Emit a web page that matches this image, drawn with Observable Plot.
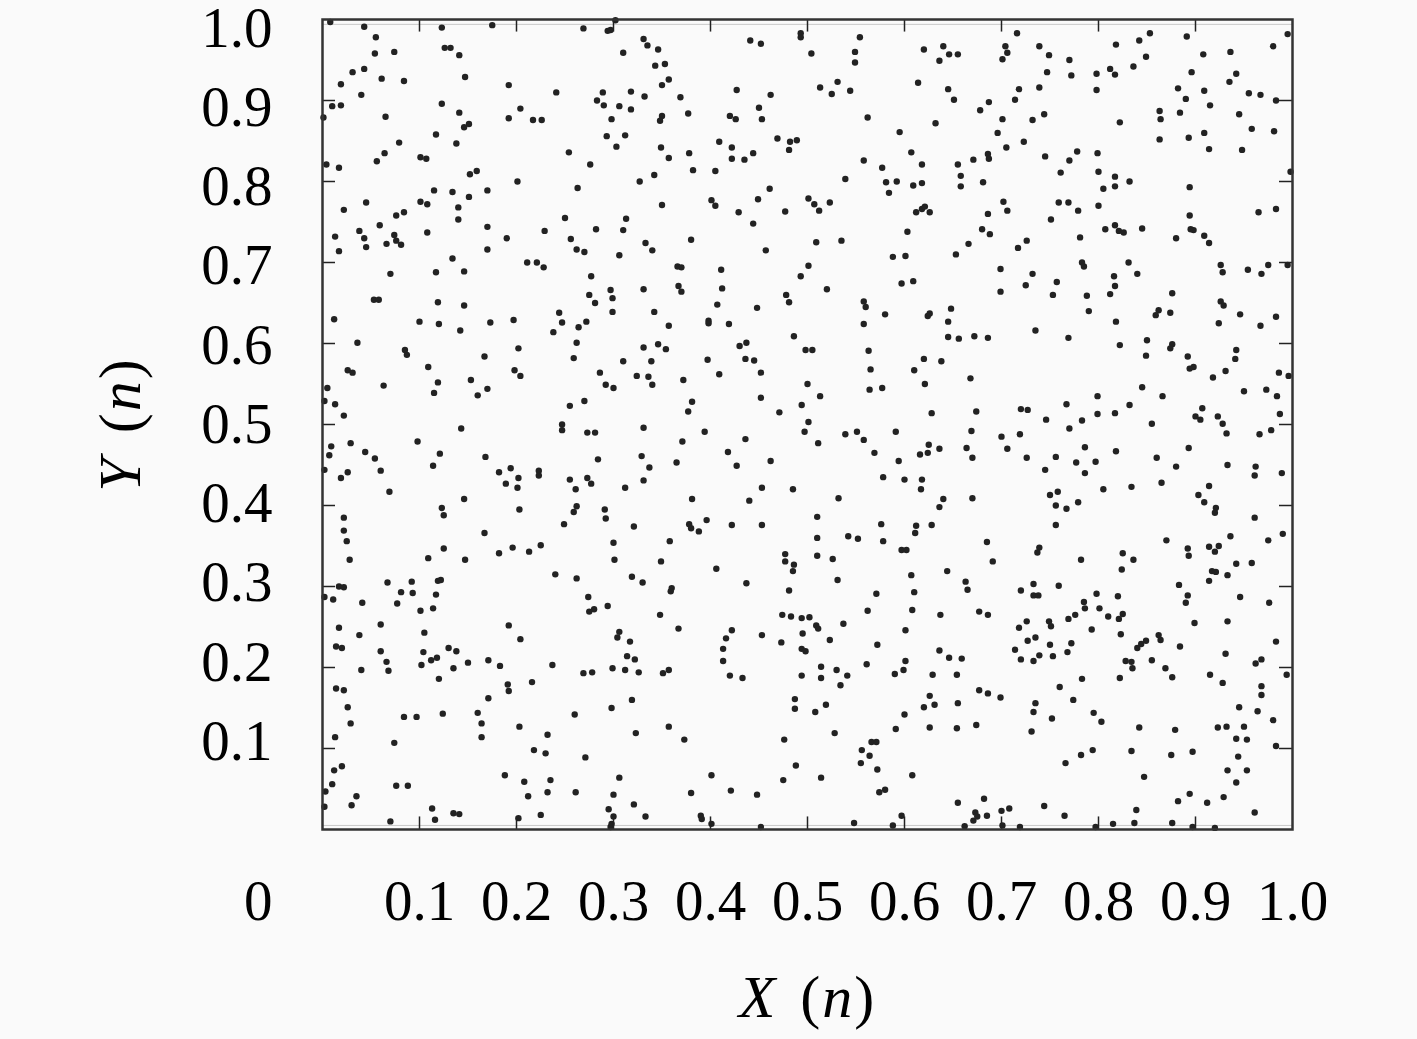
<!DOCTYPE html>
<html>
<head>
<meta charset="utf-8">
<script src="https://cdn.jsdelivr.net/npm/d3@7"></script>
<script src="https://cdn.jsdelivr.net/npm/@observablehq/plot@0.6"></script>
<style>
html,body{margin:0;padding:0;background:#fafafa;}
svg{display:block;}
svg text{font-family:"Liberation Serif",serif !important;}
</style>
</head>
<body>
<div id="chart"></div>
<script>
const topLeft = [[.008,.997],[.043,.991],[.055,.978],[.054,.958],[.074,.960],[.123,.990],[.175,.993],[.126,.965],[.132,.965],[.141,.956],[.147,.929],[.031,.935],[.043,.939],[.019,.920],[.061,.927],[.084,.924],[.040,.907],[.192,.919],[.241,.910],[.269,.989],[.294,.986],[.297,.987],[.302,.999],[.310,.959],[.010,.893],[.019,.894],[.001,.879],[.065,.880],[.123,.896],[.141,.885],[.151,.871],[.146,.867],[.117,.858],[.138,.847],[.192,.878],[.204,.890],[.217,.876],[.226,.876],[.289,.910],[.318,.911],[.283,.900],[.290,.894],[.306,.893],[.318,.889],[.298,.877],[.293,.856],[.312,.857],[.303,.843],[.254,.836],[.276,.821],[.079,.848],[.064,.835],[.056,.825],[.101,.830],[.107,.828],[.004,.821],[.017,.817],[.152,.809],[.159,.813],[.201,.800],[.263,.792],[.327,.800],[.115,.789],[.134,.787],[.151,.781],[.170,.789],[.101,.775],[.108,.772],[.045,.774],[.022,.765],[.140,.768],[.140,.753],[.084,.762],[.076,.758],[.059,.746],[.038,.739],[.013,.732],[.043,.730],[.045,.719],[.066,.723],[.074,.734],[.076,.727],[.081,.722],[.108,.737],[.170,.744],[.190,.730],[.170,.716],[.229,.739],[.250,.755],[.256,.729],[.282,.741],[.262,.716],[.270,.713],[.313,.754],[.310,.740],[.306,.709],[.017,.714],[.134,.705],[.211,.700],[.221,.700],[.228,.694],[.070,.686],[.117,.688],[.146,.689],[.277,.683]];
const topMiddle = [[.331,.976],[.335,.968],[.346,.963],[.343,.943],[.353,.945],[.357,.926],[.350,.919],[.332,.905],[.369,.904],[.350,.881],[.348,.875],[.377,.884],[.441,.974],[.452,.970],[.493,.983],[.493,.978],[.504,.958],[.554,.978],[.549,.960],[.549,.947],[.427,.913],[.462,.907],[.513,.916],[.531,.923],[.525,.908],[.544,.912],[.620,.963],[.640,.967],[.646,.957],[.655,.957],[.636,.949],[.614,.922],[.645,.914],[.651,.901],[.450,.891],[.420,.881],[.426,.877],[.453,.877],[.562,.879],[.632,.872],[.595,.861],[.409,.849],[.422,.842],[.422,.828],[.435,.827],[.444,.835],[.469,.853],[.482,.849],[.489,.851],[.481,.839],[.349,.842],[.378,.835],[.357,.829],[.382,.814],[.405,.813],[.342,.808],[.461,.791],[.350,.771],[.401,.777],[.405,.770],[.449,.778],[.429,.762],[.477,.763],[.501,.779],[.507,.772],[.512,.764],[.523,.774],[.444,.748],[.539,.803],[.558,.826],[.577,.817],[.581,.799],[.592,.800],[.584,.786],[.609,.795],[.618,.798],[.607,.836],[.618,.821],[.655,.821],[.658,.807],[.658,.794],[.612,.762],[.618,.766],[.621,.769],[.626,.762],[.603,.738],[.666,.723],[.653,.710],[.588,.707],[.601,.708],[.535,.727],[.509,.725],[.457,.715],[.380,.728],[.333,.724],[.340,.715],[.366,.695],[.370,.694],[.411,.691],[.501,.696]];
const topRight = [[.716,.983],[.739,.967],[.749,.956],[.704,.967],[.706,.959],[.701,.951],[.770,.950],[.747,.935],[.772,.931],[.798,.933],[.812,.939],[.817,.932],[.818,.969],[.842,.974],[.853,.983],[.849,.954],[.836,.942],[.891,.979],[.908,.957],[.936,.960],[.980,.967],[.995,.982],[.896,.935],[.942,.933],[.935,.923],[.798,.913],[.739,.916],[.718,.914],[.714,.901],[.687,.898],[.678,.888],[.701,.877],[.732,.876],[.744,.883],[.696,.860],[.882,.915],[.890,.902],[.909,.912],[.915,.894],[.955,.909],[.967,.907],[.983,.900],[.863,.887],[.864,.877],[.884,.885],[.945,.883],[.822,.873],[.958,.865],[.981,.862],[.909,.860],[.893,.854],[.863,.852],[.914,.840],[.948,.839],[.705,.842],[.723,.849],[.686,.834],[.687,.828],[.671,.827],[.745,.831],[.778,.837],[.770,.826],[.799,.835],[.761,.811],[.800,.812],[.817,.806],[.832,.800],[.817,.794],[.805,.791],[.998,.812],[.894,.793],[.681,.799],[.702,.775],[.706,.764],[.686,.760],[.759,.774],[.769,.774],[.779,.764],[.800,.770],[.983,.766],[.965,.762],[.894,.758],[.751,.753],[.680,.741],[.688,.735],[.807,.741],[.817,.746],[.821,.739],[.826,.737],[.845,.742],[.895,.741],[.898,.740],[.909,.733],[.914,.724],[.880,.730],[.781,.731],[.726,.727],[.717,.718],[.783,.700],[.785,.695],[.831,.700],[.699,.692],[.732,.686],[.926,.697],[.928,.688],[.954,.691],[.968,.686],[.975,.697],[.995,.697],[.816,.683],[.840,.686]];
const midLeft = [[.297,.666],[.299,.656],[.275,.660],[.281,.650],[.299,.639],[.053,.654],[.058,.654],[.119,.651],[.146,.647],[.012,.630],[.100,.627],[.120,.624],[.142,.616],[.173,.626],[.197,.629],[.244,.638],[.247,.626],[.272,.627],[.264,.620],[.238,.614],[.262,.601],[.036,.601],[.085,.592],[.087,.586],[.167,.584],[.202,.594],[.259,.582],[.310,.578],[.109,.571],[.026,.567],[.031,.564],[.198,.567],[.204,.560],[.286,.564],[.324,.560],[.119,.552],[.153,.555],[.170,.544],[.063,.548],[.115,.539],[.160,.536],[.292,.549],[.300,.545],[.005,.545],[.002,.529],[.013,.525],[.022,.511],[.255,.523],[.270,.529],[.143,.495],[.247,.500],[.247,.493],[.273,.490],[.281,.490],[.029,.477],[.009,.473],[.007,.462],[.098,.479],[.044,.466],[.054,.458],[.121,.464],[.114,.449],[.168,.460],[.284,.457],[.002,.444],[.026,.441],[.019,.434],[.060,.443],[.182,.441],[.194,.446],[.202,.434],[.189,.427],[.201,.422],[.223,.443],[.223,.437],[.255,.432],[.261,.420],[.273,.434],[.277,.427],[.312,.422],[.069,.417],[.146,.408],[.123,.397],[.125,.388],[.203,.395],[.262,.399],[.259,.392],[.291,.395],[.292,.384],[.022,.385],[.022,.369],[.249,.377],[.321,.374],[.167,.366]];
const midMiddle = [[.331,.667],[.367,.671],[.370,.664],[.412,.668],[.493,.683],[.520,.667],[.597,.674],[.609,.677],[.478,.660],[.481,.651],[.558,.652],[.560,.645],[.580,.636],[.624,.634],[.626,.637],[.648,.643],[.645,.627],[.342,.639],[.407,.648],[.448,.644],[.398,.628],[.398,.625],[.419,.624],[.357,.622],[.558,.624],[.486,.609],[.645,.608],[.656,.606],[.331,.595],[.346,.599],[.354,.593],[.430,.597],[.437,.601],[.498,.592],[.505,.592],[.563,.591],[.339,.578],[.397,.580],[.436,.581],[.445,.579],[.620,.581],[.638,.578],[.565,.568],[.610,.567],[.336,.559],[.340,.549],[.372,.555],[.409,.562],[.452,.564],[.668,.557],[.621,.550],[.500,.550],[.564,.543],[.577,.545],[.513,.535],[.381,.528],[.377,.516],[.452,.533],[.494,.524],[.471,.515],[.628,.514],[.331,.496],[.501,.503],[.497,.491],[.539,.488],[.551,.491],[.558,.481],[.591,.491],[.394,.491],[.371,.479],[.436,.482],[.511,.477],[.669,.492],[.418,.466],[.569,.465],[.625,.475],[.624,.465],[.616,.463],[.636,.470],[.664,.471],[.329,.461],[.365,.453],[.337,.447],[.427,.449],[.462,.455],[.594,.455],[.670,.459],[.331,.431],[.578,.435],[.600,.432],[.618,.432],[.617,.420],[.453,.422],[.485,.420],[.381,.408],[.440,.406],[.532,.409],[.640,.408],[.636,.398],[.670,.409],[.396,.382],[.378,.377],[.380,.372],[.388,.368],[.422,.376],[.453,.376],[.510,.386],[.576,.377],[.612,.375],[.611,.366],[.628,.376],[.542,.362],[.552,.359],[.510,.360]];
const midRight = [[.699,.664],[.725,.672],[.757,.676],[.753,.660],[.788,.659],[.790,.640],[.817,.671],[.812,.661],[.876,.662],[.926,.652],[.929,.647],[.862,.641],[.859,.635],[.874,.638],[.946,.636],[.924,.625],[.983,.633],[.967,.622],[.818,.627],[.735,.616],[.672,.609],[.686,.607],[.769,.607],[.850,.604],[.822,.598],[.876,.599],[.874,.594],[.849,.585],[.892,.584],[.942,.592],[.941,.581],[.898,.571],[.894,.569],[.931,.566],[.918,.558],[.986,.564],[.996,.560],[.845,.546],[.950,.541],[.973,.543],[.984,.535],[.799,.535],[.866,.535],[.767,.525],[.832,.524],[.907,.520],[.720,.519],[.727,.518],[.674,.516],[.799,.513],[.817,.514],[.987,.513],[.746,.506],[.783,.505],[.900,.510],[.905,.506],[.923,.510],[.928,.501],[.855,.501],[.770,.495],[.932,.489],[.966,.488],[.978,.493],[.700,.485],[.719,.488],[.706,.470],[.786,.472],[.818,.467],[.893,.471],[.726,.459],[.756,.460],[.860,.459],[.777,.453],[.797,.454],[.933,.450],[.962,.448],[.961,.437],[.880,.448],[.745,.444],[.786,.440],[.989,.440],[.865,.428],[.805,.420],[.834,.423],[.914,.424],[.903,.413],[.909,.404],[.750,.413],[.758,.417],[.779,.404],[.756,.400],[.767,.396],[.921,.397],[.920,.391],[.961,.385],[.756,.376],[.990,.365],[.975,.357],[.936,.362],[.870,.357]];
const lowLeft = [[.025,.356],[.028,.333],[.109,.335],[.125,.347],[.147,.333],[.182,.341],[.196,.348],[.213,.343],[.225,.351],[.300,.354],[.301,.333],[.240,.315],[.262,.310],[.319,.312],[.330,.305],[.017,.300],[.022,.299],[.002,.287],[.011,.284],[.067,.305],[.092,.306],[.119,.307],[.122,.308],[.081,.293],[.093,.292],[.117,.290],[.041,.280],[.077,.279],[.114,.273],[.101,.270],[.274,.287],[.294,.276],[.280,.272],[.275,.269],[.060,.253],[.017,.249],[.038,.240],[.105,.243],[.192,.252],[.204,.235],[.306,.244],[.304,.237],[.317,.232],[.014,.226],[.020,.224],[.060,.220],[.104,.219],[.130,.224],[.138,.220],[.066,.207],[.068,.196],[.112,.209],[.118,.212],[.102,.203],[.135,.199],[.150,.206],[.171,.209],[.183,.202],[.237,.203],[.314,.214],[.322,.210],[.299,.199],[.312,.197],[.326,.194],[.269,.193],[.278,.194],[.040,.197],[.120,.186],[.191,.179],[.192,.171],[.216,.182],[.014,.174],[.022,.172],[.171,.162],[.319,.160],[.026,.151],[.298,.150],[.160,.144],[.124,.143],[.260,.142],[.084,.139],[.097,.139],[.029,.131],[.164,.131],[.203,.127],[.232,.117],[.323,.119],[.013,.114],[.164,.114],[.074,.107],[.218,.098],[.230,.094],[.271,.089],[.020,.078],[.012,.073],[.188,.067],[.208,.059],[.235,.061],[.306,.064],[.010,.056],[.076,.054],[.088,.054],[.003,.047],[.232,.046],[.261,.046],[.212,.041],[.300,.043],[.035,.041],[.030,.030],[.002,.028],[.113,.026],[.321,.031],[.295,.025],[.135,.020],[.141,.019],[.225,.018],[.300,.016],[.116,.012],[.070,.010],[.202,.014],[.297,.003],[.298,.007]];
const lowMiddle = [[.358,.356],[.349,.331],[.406,.322],[.437,.304],[.360,.298],[.359,.294],[.477,.340],[.477,.331],[.486,.327],[.485,.319],[.510,.338],[.526,.334],[.578,.356],[.597,.345],[.602,.345],[.607,.314],[.644,.319],[.663,.306],[.665,.296],[.531,.308],[.481,.295],[.571,.291],[.610,.293],[.608,.271],[.562,.270],[.637,.265],[.348,.265],[.474,.265],[.483,.263],[.494,.261],[.502,.262],[.509,.252],[.511,.248],[.537,.254],[.367,.248],[.422,.246],[.416,.236],[.453,.240],[.495,.242],[.601,.246],[.523,.234],[.473,.231],[.572,.228],[.413,.223],[.494,.223],[.498,.220],[.636,.221],[.646,.212],[.659,.211],[.413,.208],[.601,.208],[.561,.204],[.514,.201],[.530,.197],[.599,.197],[.357,.197],[.351,.193],[.590,.192],[.629,.191],[.654,.191],[.420,.190],[.433,.187],[.494,.190],[.514,.187],[.541,.190],[.534,.178],[.626,.165],[.487,.161],[.487,.149],[.519,.154],[.508,.145],[.631,.154],[.620,.151],[.655,.156],[.600,.142],[.357,.127],[.591,.124],[.626,.126],[.654,.125],[.528,.119],[.373,.111],[.476,.111],[.566,.108],[.571,.108],[.556,.098],[.564,.091],[.555,.082],[.488,.079],[.572,.074],[.401,.067],[.608,.067],[.514,.064],[.475,.061],[.580,.049],[.574,.046],[.421,.048],[.380,.045],[.448,.043],[.655,.033],[.333,.016],[.390,.017],[.391,.013],[.401,.007],[.452,.003],[.548,.008],[.597,.017],[.588,.005],[.662,.004]];
const lowRight = [[.685,.355],[.739,.348],[.737,.342],[.691,.331],[.782,.333],[.825,.341],[.836,.333],[.824,.321],[.892,.347],[.893,.338],[.914,.349],[.924,.350],[.920,.343],[.942,.328],[.958,.329],[.917,.319],[.921,.318],[.933,.314],[.914,.307],[.883,.302],[.892,.289],[.890,.280],[.946,.287],[.976,.280],[.733,.303],[.759,.301],[.720,.295],[.733,.289],[.738,.289],[.798,.291],[.820,.288],[.785,.281],[.786,.273],[.801,.273],[.677,.269],[.686,.265],[.776,.265],[.769,.260],[.810,.263],[.825,.266],[.821,.260],[.749,.257],[.751,.251],[.726,.257],[.718,.249],[.793,.247],[.933,.257],[.899,.255],[.823,.241],[.862,.240],[.864,.234],[.735,.237],[.727,.233],[.772,.230],[.750,.228],[.849,.233],[.844,.229],[.840,.224],[.884,.226],[.983,.232],[.714,.222],[.768,.219],[.739,.215],[.753,.214],[.931,.217],[.720,.210],[.733,.208],[.828,.208],[.834,.207],[.855,.209],[.968,.210],[.962,.205],[.835,.199],[.869,.199],[.915,.191],[.994,.191],[.876,.188],[.822,.187],[.783,.186],[.928,.181],[.760,.176],[.968,.177],[.968,.166],[.677,.172],[.686,.168],[.699,.163],[.774,.160],[.735,.156],[.733,.145],[.945,.151],[.964,.146],[.795,.144],[.752,.137],[.980,.135],[.803,.133],[.842,.126],[.923,.126],[.932,.127],[.950,.127],[.674,.129],[.879,.123],[.731,.121],[.942,.112],[.953,.111],[.983,.103],[.794,.098],[.834,.097],[.897,.096],[.782,.092],[.875,.092],[.944,.090],[.766,.082],[.933,.073],[.953,.073],[.847,.065],[.942,.058],[.894,.044],[.929,.040],[.882,.035],[.682,.038],[.912,.033],[.744,.029],[.708,.026],[.700,.023],[.839,.024],[.961,.021],[.765,.017],[.701,.005],[.719,.003],[.797,.003],[.815,.007],[.837,.008],[.876,.008],[.897,.003],[.920,.002],[.673,.021],[.671,.011],[.675,.016],[.685,.017]];

const tickValues = [0.1,0.2,0.3,0.4,0.5,0.6,0.7,0.8,0.9];
const xLabels = [0.1,0.2,0.3,0.4,0.5,0.6,0.7,0.8,0.9,1.0];
const yLabels = [0.1,0.2,0.3,0.4,0.5,0.6,0.7,0.8,0.9,1.0];
const originLabel = ["0"];
const xTitle = "X (n)";
const yTitle = "Y (n)";

const points = [topLeft,topMiddle,topRight,midLeft,midMiddle,midRight,lowLeft,lowMiddle,lowRight].flat();
const serif = "Liberation Serif";
const ink = "#000";
const tickLenX = 0.0155, tickLenY = 0.0134;
const labelSize = 57;

const chart = Plot.plot({
  width: 1417, height: 1039,
  marginLeft: 322, marginRight: 125, marginTop: 19, marginBottom: 210,
  x: {domain: [0, 1], axis: null},
  y: {domain: [0, 1], axis: null},
  style: {background: "#fafafa"},
  marks: [
    Plot.ruleY([0.005], {stroke: "#c8c8c8", strokeWidth: 1}),
    Plot.ruleY([0.994], {stroke: "#c8c8c8", strokeWidth: 1}),
    Plot.dot(points, {x: d => d[0], y: d => d[1], r: 3.2, fill: "#222", stroke: "none"}),
    Plot.ruleX(tickValues, {y1: 0, y2: tickLenX, stroke: "#222", strokeWidth: 1.5}),
    Plot.ruleX(tickValues, {y1: 1 - tickLenX, y2: 1, stroke: "#222", strokeWidth: 1.5}),
    Plot.ruleY(tickValues, {x1: 0, x2: tickLenY, stroke: "#222", strokeWidth: 1.5}),
    Plot.ruleY(tickValues, {x1: 1 - tickLenY, x2: 1, stroke: "#222", strokeWidth: 1.5}),
    Plot.frame({stroke: "#333", strokeWidth: 2.5}),
    Plot.text(xLabels, {x: d => d, frameAnchor: "bottom", dy: 72, text: d => d.toFixed(1), fontFamily: serif, fontSize: labelSize, fill: ink, lineAnchor: "middle"}),
    Plot.text(yLabels, {y: d => 0.1086 + (d - 0.1) * 0.978, frameAnchor: "left", dx: -50, textAnchor: "end", text: d => d.toFixed(1), fontFamily: serif, fontSize: labelSize, fill: ink, lineAnchor: "middle"}),
    Plot.text(originLabel, {frameAnchor: "bottom-left", dx: -50, dy: 72, textAnchor: "end", fontFamily: serif, fontSize: labelSize, fill: ink, lineAnchor: "middle"}),
    Plot.text([xTitle], {x: 0.5, frameAnchor: "bottom", dy: 168, fontFamily: serif, fontSize: 60, fill: ink, lineAnchor: "middle"}),
    Plot.text([yTitle], {y: 0.5, frameAnchor: "left", dx: -202, rotate: -90, textAnchor: "middle", fontFamily: serif, fontSize: 60, fill: ink, lineAnchor: "middle"})
  ]
});

// Axis titles carry italic variables and upright parentheses.
chart.querySelectorAll("text").forEach(t => {
  const s = t.textContent;
  if (s === xTitle || s === yTitle) {
    const parts = [[s[0], true], [" (", false], ["n", true], [")", false]];
    const holder = t.querySelector("tspan") || t;
    holder.textContent = "";
    for (const [str, ital] of parts) {
      const sp = document.createElementNS("http://www.w3.org/2000/svg", "tspan");
      sp.textContent = str;
      if (ital) sp.setAttribute("font-style", "italic");
      holder.appendChild(sp);
    }
    t.setAttribute("style", "white-space:pre;word-spacing:6px;letter-spacing:2px");
  }
});
document.getElementById("chart").appendChild(chart);
</script>
</body>
</html>
